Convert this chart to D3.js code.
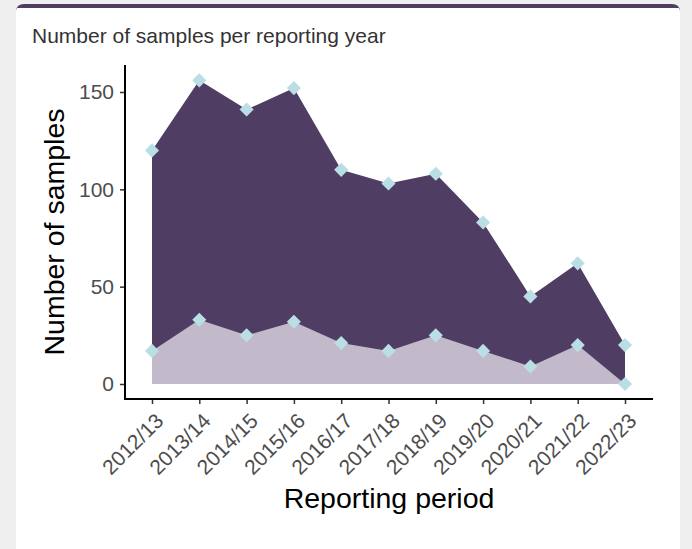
<!DOCTYPE html>
<html><head><meta charset="utf-8">
<script src="https://cdn.jsdelivr.net/npm/d3@7"></script>
<style>
html,body{margin:0;padding:0;background:#efefef;}
svg{display:block;}
</style></head>
<body>
<svg id="c" width="692" height="549"></svg>
<script>
const periods = ["2012/13","2013/14","2014/15","2015/16","2016/17","2017/18","2018/19","2019/20","2020/21","2021/22","2022/23"];
const totalSamples = [120,156,141,152,110,103,108,83,45,62,20];
const subsetSamples = [17,33,25,32,21,17,25,17,9,20,0];
const yTicks = [0,50,100,150];

const svg = d3.select("#c");
const font = "Liberation Sans, Arial, sans-serif";
// card
svg.append("path")
  .attr("d","M16,12 Q16,4 24,4 L672,4 Q680,4 680,12 L680,549 L16,549 Z")
  .attr("fill","#ffffff");
svg.append("path").attr("d","M16,12 Q16,4 24,4 L672,4 Q680,4 680,12 L680,8 L16,8Z").attr("fill","#4f3d63");
svg.append("path").attr("d","M17,14 Q17,8 24,8 L672,8 Q679,8 679,14 L679,20 L17,20Z").attr("fill","#ffffff");

svg.append("text").attr("x",32).attr("y",43)
  .attr("font-family",font).attr("font-size",21)
  .attr("fill","#333").text("Number of samples per reporting year");

const x = d3.scalePoint().domain(periods).range([152,625]);
const y = d3.scaleLinear().domain([0,150]).range([384,92]);

const data = periods.map((p,i)=>({p, t: totalSamples[i], s: subsetSamples[i]}));

const areaT = d3.area().x(d=>x(d.p)).y0(y(0)).y1(d=>y(d.t));
const areaS = d3.area().x(d=>x(d.p)).y0(y(0)).y1(d=>y(d.s));
svg.append("path").datum(data).attr("d",areaT).attr("fill","#4f3d63");
svg.append("path").datum(data).attr("d",areaS).attr("fill","#c2b9cb");

const sym = d3.symbol().type(d3.symbolSquare).size(100);
const pts = [];
data.forEach(d=>{pts.push({p:d.p,v:d.t});pts.push({p:d.p,v:d.s});});
svg.selectAll("path.pt").data(pts).enter().append("path")
  .attr("class","pt")
  .attr("d",sym)
  .attr("transform",d=>`translate(${x(d.p)},${y(d.v)}) rotate(45)`)
  .attr("fill","#b9dfe5");

// axes
const yAx = svg.append("g").attr("transform","translate(125,0)")
  .call(d3.axisLeft(y).tickValues(yTicks).tickSize(5).tickSizeOuter(0).tickPadding(6));
yAx.select(".domain").remove();
yAx.append("line").attr("x1",0).attr("x2",0).attr("y1",65).attr("y2",400).attr("stroke","#000").attr("stroke-width",2);
yAx.selectAll(".tick line").attr("stroke","#333").attr("stroke-width",1.5);
yAx.selectAll(".tick text").attr("font-family",font).attr("font-size",21).attr("fill","#4d4d4d");

const xAx = svg.append("g").attr("transform","translate(0,399)")
  .call(d3.axisBottom(x).tickSize(5).tickSizeOuter(0).tickPadding(3));
xAx.select(".domain").remove();
xAx.append("line").attr("x1",124).attr("x2",653).attr("y1",0).attr("y2",0).attr("stroke","#000").attr("stroke-width",2);
xAx.selectAll(".tick line").attr("stroke","#333").attr("stroke-width",1.5);
xAx.selectAll(".tick text").attr("font-family",font).attr("font-size",21).attr("fill","#4d4d4d")
  .attr("text-anchor","end").attr("dy","0.35em").attr("y",0)
  .attr("transform","translate(7,18) rotate(-45)");

svg.append("text").attr("transform","translate(64,232) rotate(-90)")
  .attr("text-anchor","middle").attr("font-family",font).attr("font-size",28.5).attr("fill","#000")
  .text("Number of samples");
svg.append("text").attr("x",389).attr("y",508).attr("text-anchor","middle")
  .attr("font-family",font).attr("font-size",28.5).attr("fill","#000").text("Reporting period");
</script>
</body></html>
